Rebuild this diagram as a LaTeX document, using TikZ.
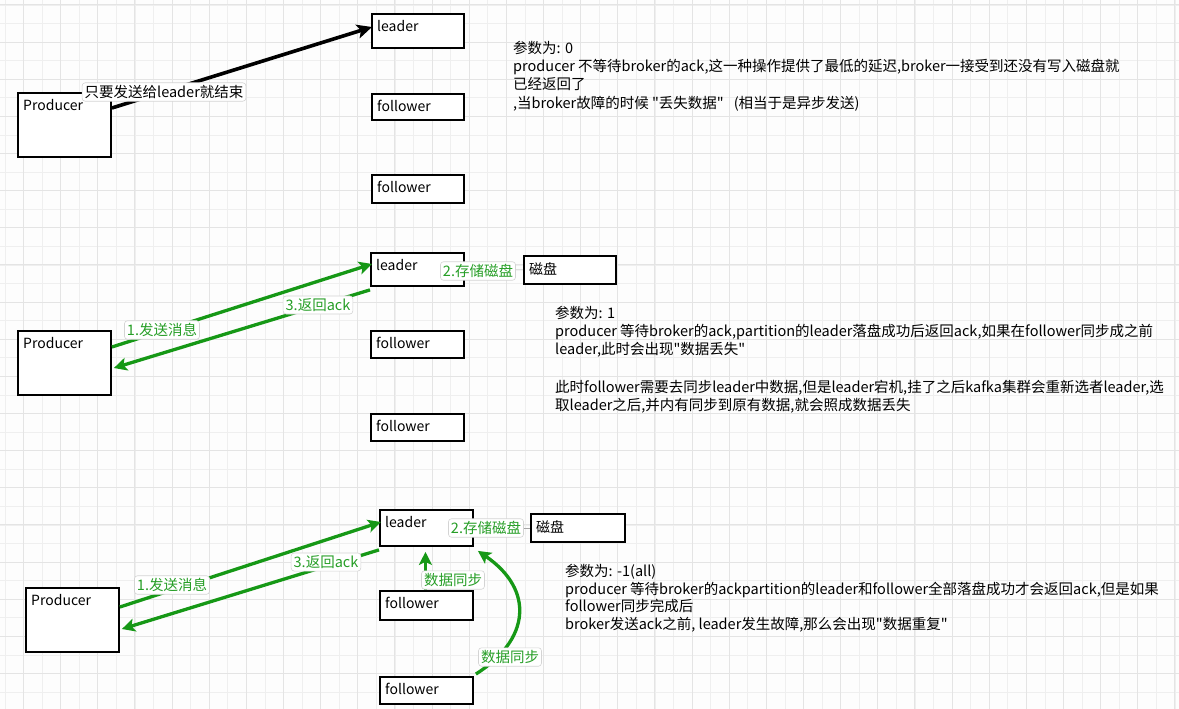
\documentclass[tikz,border=0pt]{standalone}
\usepackage{fontspec}
\setmainfont{Noto Sans CJK SC}[Ligatures=TeXOff]
\usetikzlibrary{arrows.meta,calc}
\definecolor{bgc}{RGB}{253,253,253}
\definecolor{gmin}{RGB}{239,239,239}
\definecolor{gmaj}{RGB}{228,228,228}
\definecolor{ag}{RGB}{22,152,22}
\definecolor{lg}{RGB}{38,158,38}
\definecolor{lb}{RGB}{212,212,212}
\begin{document}
\begin{tikzpicture}[x=1pt,y=-1pt,
  box/.style={draw=black, line width=1.9pt, fill=white, anchor=north west, inner sep=0pt},
  boxlbl/.style={label={[anchor=west, inner sep=0pt, xshift=6pt, yshift=-13pt, font=\fontsize{14}{16}\selectfont]north west:#1}},
  disklbl/.style={label={[anchor=west, inner sep=0pt, xshift=6pt, yshift=-14pt, font=\fontsize{14}{16}\selectfont]north west:#1}},
  blk/.style={draw=black, line width=3.6pt, -{Stealth[length=15pt,width=14pt,inset=3.5pt]}},
  grn/.style={draw=ag, line width=3.3pt, -{Stealth[length=13pt,width=13pt,inset=3pt]}},
  thin/.style={draw=gray!70, line width=0.5pt},
  tag/.style={draw=lb, line width=0.6pt, fill=white, rounded corners=3pt, inner sep=2.5pt, text=lg, font=\fontsize{14.5}{16}\selectfont},
  btag/.style={tag, text=black},
  txt/.style={anchor=base west, inner sep=0pt, font=\fontsize{14.5}{18}\selectfont}
]
\useasboundingbox (0,0) rectangle (1179,709);
\fill[bgc] (0,0) rectangle (1179,709);
% grid
\foreach \i in {0,...,63} {\draw[gmin, line width=0.8pt] ({5+18.57*\i},0) -- ++(0,709);}
\foreach \i in {0,...,38} {\draw[gmin, line width=0.8pt] (0,{5+18.57*\i}) -- ++(1179,0);}
\foreach \i in {0,...,31} {\draw[gmaj, line width=1pt] ({23.57+37.14*\i},0) -- ++(0,709);}
\foreach \i in {0,...,19} {\draw[gmaj, line width=1pt] (0,{5+37.14*\i}) -- ++(1179,0);}

% ---------- section 1 ----------
\node[box, minimum width=93, minimum height=64, boxlbl=Producer] (P1) at (17,92) {};
\node[box, minimum width=92, minimum height=34, boxlbl=leader] (L1) at (371,13) {};
\node[box, minimum width=92, minimum height=26, boxlbl=follower] (F1a) at (371,93) {};
\node[box, minimum width=92, minimum height=28, boxlbl=follower] (F1b) at (371,174) {};
\draw[blk] ($(P1.north east)+(0,16)$) -- ($(L1.north west)+(1,14)$);
\node[btag] (T1) at (164,92) {只要发送给leader就结束};

\node[txt] (t1a) at (513,54) {参数为: 0};
\node[txt] (t1b) at (513,72) {producer 不等待broker的ack,这一种操作提供了最低的延迟,broker一接受到还没有写入磁盘就};
\node[txt] (t1c) at (513,90) {已经返回了};
\node[txt] (t1d) at (513,108) {,当broker故障的时候 "丢失数据"\hspace{10pt}(相当于是异步发送)};

% ---------- section 2 ----------
\node[box, minimum width=93, minimum height=64, boxlbl=Producer] (P2) at (17,330) {};
\node[box, minimum width=93, minimum height=33, boxlbl=leader] (L2) at (370,252) {};
\node[box, minimum width=92, minimum height=28, disklbl=磁盘] (D2) at (523,255) {};
\node[box, minimum width=93, minimum height=27, boxlbl=follower] (F2a) at (370,330) {};
\node[box, minimum width=93, minimum height=27, boxlbl=follower] (F2b) at (370,413) {};
\draw[thin] (L2.east) -- (D2.west);
\draw[grn] ($(P2.north east)+(0,17)$) -- ($(L2.north west)+(2,12)$);
\draw[grn] ($(L2.south west)+(0,3)$) -- ($(P2.north east)+(2,38)$);
\node[tag] (T21) at (162,330) {1.发送消息};
\node[tag] (T22) at (478,271) {2.存储磁盘};
\node[tag] (T23) at (318,305) {3.返回ack};

\node[txt] (t2a) at (555,318) {参数为: 1};
\node[txt] (t2b) at (555,336) {producer 等待broker的ack,partition的leader落盘成功后返回ack,如果在follower同步成之前};
\node[txt] (t2c) at (555,354) {leader,此时会出现"数据丢失"};
\node[txt] (t2d) at (555,392) {此时follower需要去同步leader中数据,但是leader宕机,挂了之后kafka集群会重新选者leader,选};
\node[txt] (t2e) at (555,410) {取leader之后,并内有同步到原有数据,就会照成数据丢失};

% ---------- section 3 ----------
\node[box, minimum width=93, minimum height=64, boxlbl=Producer] (P3) at (25,587) {};
\node[box, minimum width=93, minimum height=36, boxlbl=leader] (L3) at (379,509) {};
\node[box, minimum width=94, minimum height=28, disklbl=磁盘] (D3) at (530,513) {};
\node[box, minimum width=93, minimum height=29, boxlbl=follower] (F3a) at (379,590) {};
\node[box, minimum width=93, minimum height=27, boxlbl=follower] (F3b) at (379,676) {};
\draw[thin] (L3.east) -- (D3.west);
\draw[grn] ($(P3.north east)+(0,20)$) -- ($(L3.north west)+(2,13)$);
\draw[grn] ($(L3.south west)+(0,3)$) -- ($(P3.north east)+(2,42)$);
\draw[grn] ($(F3a.north)+(-1,0)$) -- ($(L3.south)+(-1,5)$);
\draw[grn] ($(F3b.north east)+(2,-2)$) .. controls (530,640) and (535,590) .. ($(L3.south east)+(4,4)$);
\node[tag] (T31) at (172,585) {1.发送消息};
\node[tag] (T32) at (486,528) {2.存储磁盘};
\node[tag] (T33) at (326,562) {3.返回ack};
\node[tag] (T34) at (453,580) {数据同步};
\node[tag] (T35) at (510,657) {数据同步};

\node[txt] (t3a) at (565,576) {参数为: -1(all)};
\node[txt] (t3b) at (565,594) {producer 等待broker的ackpartition的leader和follower全部落盘成功才会返回ack,但是如果};
\node[txt] (t3c) at (565,611) {follower同步完成后};
\node[txt] (t3d) at (565,629) {broker发送ack之前, leader发生故障,那么会出现"数据重复"};
\end{tikzpicture}
\end{document}
